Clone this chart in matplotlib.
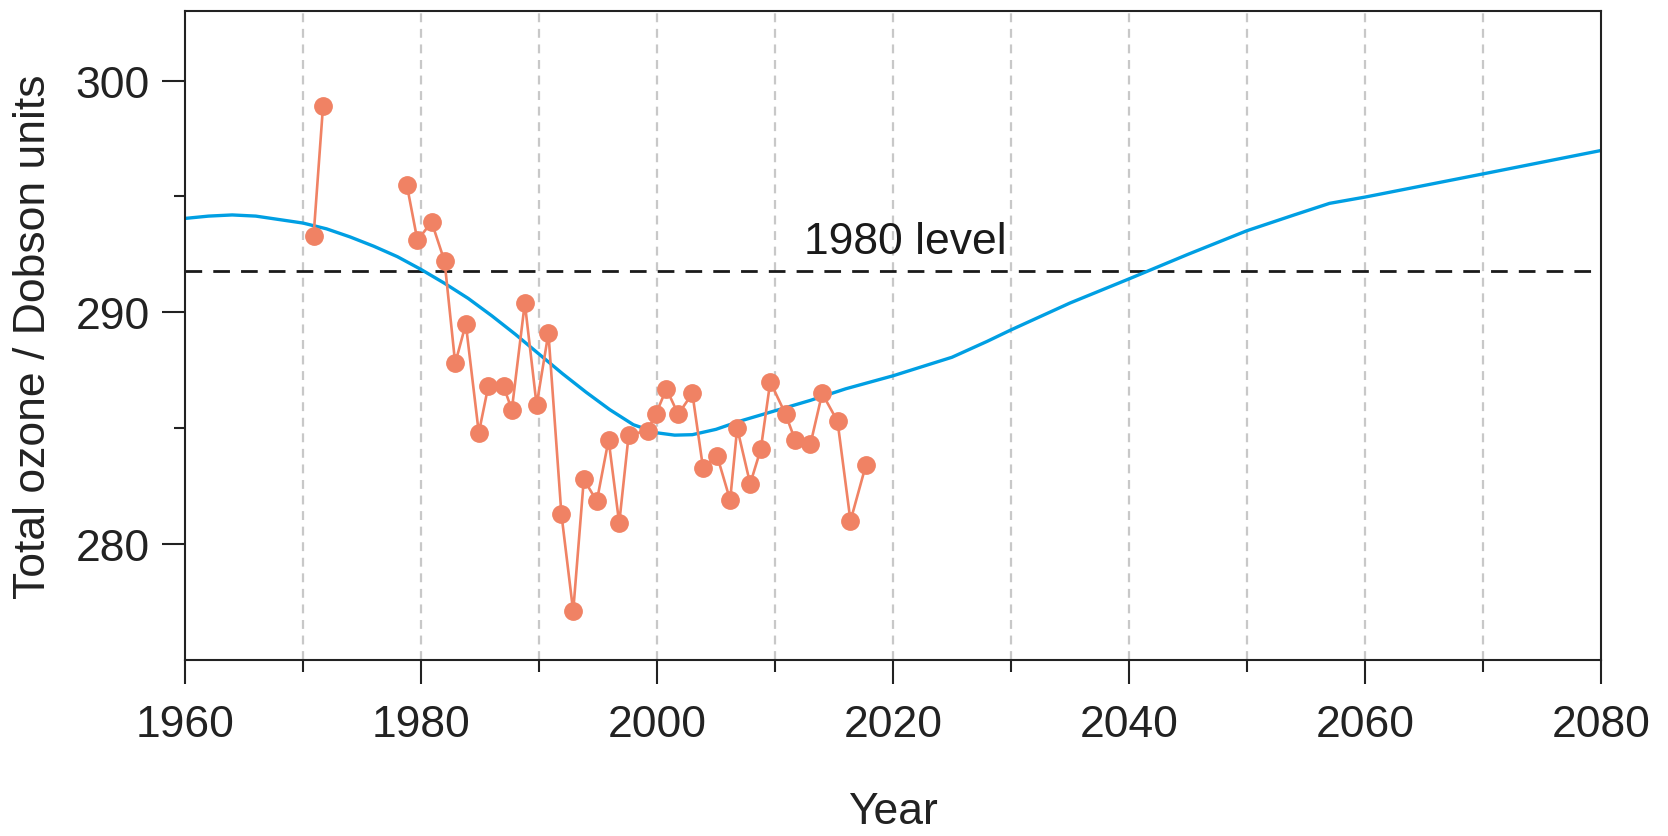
import numpy as np
import matplotlib
matplotlib.use("Agg")
import matplotlib.pyplot as plt
from matplotlib.ticker import MultipleLocator

plt.rcParams['font.family'] = ['Liberation Sans', 'DejaVu Sans']

# observed total ozone (Dobson units), gap between 1972 and 1979
obs_years = [1970.9, 1971.7, np.nan, 1978.8, 1979.7, 1980.9, 1982.0, 1982.9, 1983.8,
             1984.9, 1985.7, 1987.0, 1987.7, 1988.8, 1989.8, 1990.8, 1991.9, 1992.9,
             1993.8, 1994.9, 1995.9, 1996.8, 1997.6, 1999.2, 1999.9, 2000.8, 2001.8,
             2003.0, 2003.9, 2005.1, 2006.2, 2006.8, 2007.9, 2008.8, 2009.6, 2010.9,
             2011.7, 2013.0, 2014.0, 2015.3, 2016.4, 2017.7]
obs_ozone = [293.3, 298.9, np.nan, 295.5, 293.1, 293.9, 292.2, 287.8, 289.5,
             284.8, 286.8, 286.8, 285.8, 290.4, 286.0, 289.1, 281.3, 277.1,
             282.8, 281.85, 284.5, 280.9, 284.7, 284.9, 285.6, 286.7, 285.6,
             286.5, 283.3, 283.8, 281.9, 285.0, 282.6, 284.1, 287.0, 285.6,
             284.5, 284.3, 286.5, 285.3, 281.0, 283.4]

# model projection
model_years = [1960, 1962, 1964, 1966, 1968, 1970, 1972, 1974, 1976, 1978, 1980,
               1982, 1984, 1986, 1988, 1990, 1992, 1994, 1996, 1998, 2000, 2001.5,
               2003, 2005, 2007, 2010, 2013, 2016, 2020, 2025, 2028, 2030, 2035,
               2040, 2045, 2050, 2054, 2057, 2060, 2070, 2080]
model_ozone = [294.05, 294.15, 294.2, 294.15, 294.0, 293.85, 293.6, 293.25, 292.85,
               292.4, 291.85, 291.25, 290.6, 289.85, 289.05, 288.2, 287.35, 286.55,
               285.8, 285.15, 284.8, 284.7, 284.72, 284.95, 285.3, 285.75, 286.2,
               286.7, 287.26, 288.06, 288.75, 289.24, 290.4, 291.44, 292.5, 293.52,
               294.2, 294.7, 294.97, 295.97, 296.98]

level_1980 = 291.8

fig = plt.figure(figsize=(16.68, 8.37), dpi=100)
ax = fig.add_axes([0.1109, 0.2103, 0.8489, 0.7754])

# vertical grid every 10 years
for yr in range(1970, 2080, 10):
    ax.axvline(yr, color='#c8c8c8', lw=1.6, dashes=(4, 3), zorder=0)

ax.axhline(level_1980, color='#1a1a1a', lw=2.0, dashes=(6, 4), zorder=1)
ax.text(2012.5, 292.55, '1980 level', fontsize=32, color='#1a1a1a',
        ha='left', va='baseline')

ax.plot(model_years, model_ozone, color='#009fe3', lw=2.4, zorder=2)
ax.plot(obs_years, obs_ozone, color='#f08264', lw=1.9, marker='o',
        markersize=12.5, zorder=3)

ax.set_xlim(1960, 2080)
ax.set_ylim(275, 303)
ax.xaxis.set_major_locator(MultipleLocator(20))
ax.xaxis.set_minor_locator(MultipleLocator(10))
ax.set_yticks([280, 290, 300])
ax.set_yticks([285, 295], minor=True)

for s in ax.spines.values():
    s.set_linewidth(1.5)
    s.set_color('#222222')

ax.tick_params(axis='x', which='major', length=17, width=1.5, pad=15,
               labelsize=32, colors='#222222')
ax.tick_params(axis='x', which='minor', length=8.5, width=1.5, colors='#222222')
ax.tick_params(axis='y', which='major', length=16.5, width=1.5, pad=9,
               labelsize=32, colors='#222222')
ax.tick_params(axis='y', which='minor', length=8, width=1.5, colors='#222222')

ax.set_xlabel('Year', fontsize=32, color='#222222', labelpad=33)
ax.set_ylabel('Total ozone / Dobson units', fontsize=32, color='#222222', labelpad=15)

fig.savefig('out.png', dpi=100)
